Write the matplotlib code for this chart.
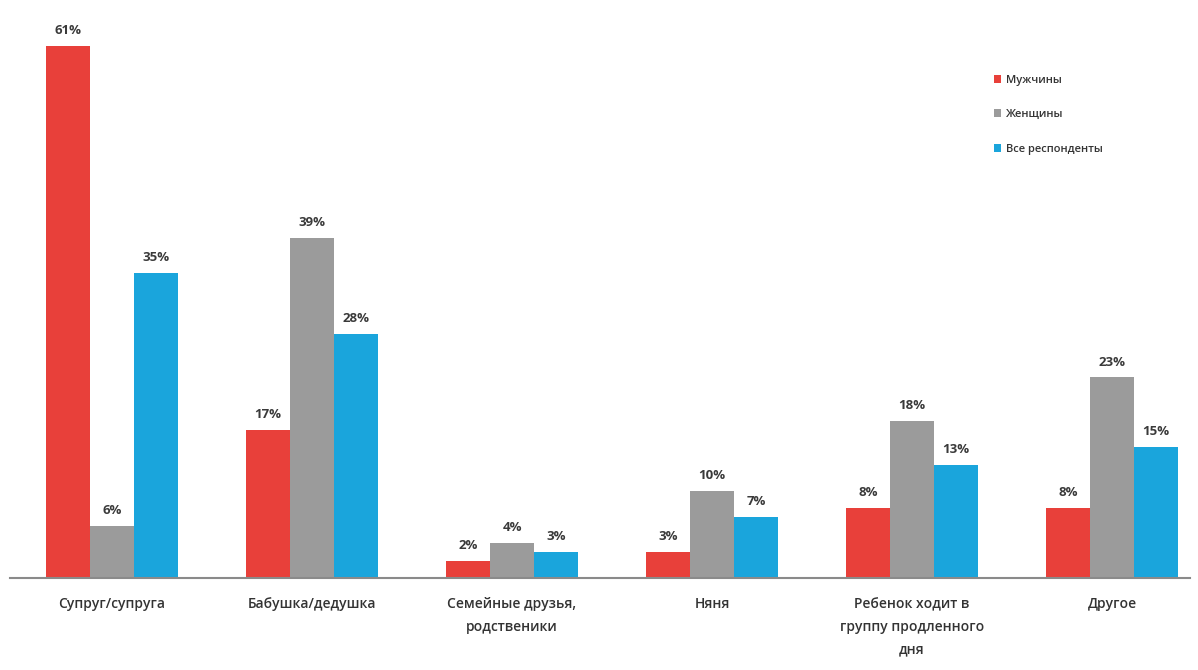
import matplotlib
matplotlib.use("Agg")
import matplotlib.pyplot as plt
import numpy as np

categories = ["Супруг/супруга", "Бабушка/дедушка", "Семейные друзья,\nродственики",
              "Няня", "Ребенок ходит в\nгруппу продленного\nдня", "Другое"]
series_names = ["Мужчины", "Женщины", "Все респонденты"]
men = [61, 17, 2, 3, 8, 8]
women = [6, 39, 4, 10, 18, 23]
all_resp = [35, 28, 3, 7, 13, 15]
colors = ["#E8403A", "#9B9B9B", "#1AA5DC"]

plt.rcParams['font.family'] = ['Open Sans', 'DejaVu Sans']

fig = plt.figure(figsize=(11.98, 6.70), dpi=100)
ax = fig.add_axes([10/1198, 92/670, 1180/1198, 567/670])

x = np.arange(len(categories))
w = 0.22
for i, (vals, name, c) in enumerate(zip([men, women, all_resp], series_names, colors)):
    pos = x + (i - 1) * w
    ax.bar(pos, vals, width=w, color=c, label=name)
    for p, v in zip(pos, vals):
        ax.text(p, v + 1.0, f"{v}%", ha='center', va='bottom', fontsize=9.5,
                fontweight='bold', color='#3a3a3a')

ax.set_xlim(-0.51, 5.39)
ax.set_ylim(0, 65)
ax.set_yticks([])
ax.set_xticks(x)
ax.set_xticklabels(categories, fontsize=10, color='#333333', linespacing=1.75,
                   fontweight='semibold')
ax.tick_params(axis='x', length=0, pad=14)
for s in ['top', 'right', 'left']:
    ax.spines[s].set_visible(False)
ax.spines['bottom'].set_color('#8a8a8a')
ax.spines['bottom'].set_linewidth(1.5)

leg = ax.legend(loc='upper left', bbox_to_anchor=(0.825, 0.905), frameon=False,
                fontsize=8, handlelength=0.7, handleheight=0.7, handletextpad=0.45,
                labelspacing=2.1)
for t in leg.get_texts():
    t.set_color('#333333')
    t.set_fontweight('semibold')

fig.savefig("out.png", dpi=100, facecolor='white')
